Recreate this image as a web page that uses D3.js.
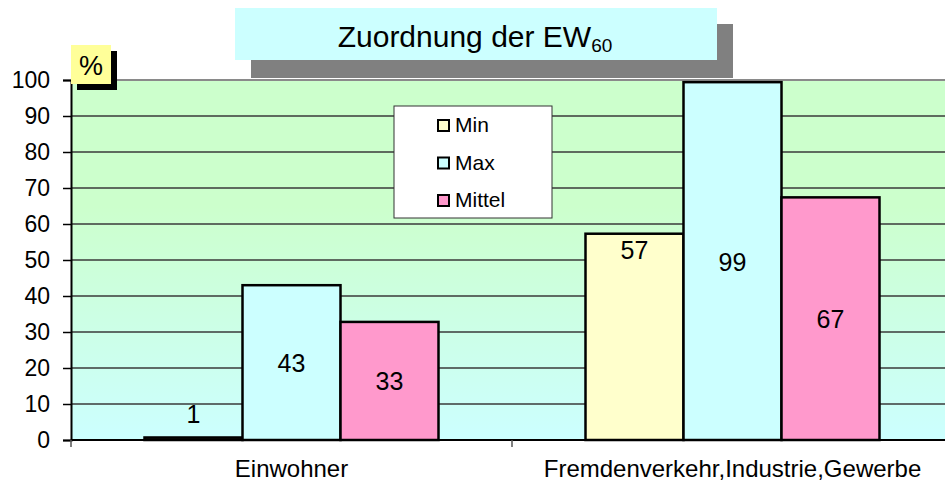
<!DOCTYPE html>
<html>
<head>
<meta charset="utf-8">
<script src="https://cdn.jsdelivr.net/npm/d3@7"></script>
<style>
  body { margin: 0; background: #fff; }
  svg { display: block; font-family: "Liberation Sans", Arial, sans-serif; }
</style>
</head>
<body>
<div id="chart"></div>
<script>
const categories = ["Einwohner", "Fremdenverkehr,Industrie,Gewerbe"];
const seriesNames = ["Min", "Max", "Mittel"];
const minValues = [0.7, 57.3];
const maxValues = [43, 99.4];
const mittelValues = [32.8, 67.4];
const yTicks = [0, 10, 20, 30, 40, 50, 60, 70, 80, 90, 100];
const colors = { Min: "#ffffcc", Max: "#ccffff", Mittel: "#ff99cc" };

const width = 945, height = 484;
const margin = { top: 80, right: -8, bottom: 44, left: 71 };

const rows = categories.map((c, i) => ({
  category: c,
  values: [
    { series: "Min", value: minValues[i] },
    { series: "Max", value: maxValues[i] },
    { series: "Mittel", value: mittelValues[i] },
  ],
}));

const svg = d3.select("#chart").append("svg")
  .attr("width", width).attr("height", height);

const x0 = d3.scaleBand().domain(categories)
  .range([margin.left, width - margin.right]);
const bw = x0.bandwidth();
// the three bars touch each other and leave a sixth of the band free on each side
const x1 = d3.scaleBand().domain(seriesNames).range([bw / 6, bw * 5 / 6]);
const y = d3.scaleLinear().domain([0, 100]).range([height - margin.bottom, margin.top]);

// background gradient
const defs = svg.append("defs");
const grad = defs.append("linearGradient").attr("id", "bg")
  .attr("x1", 0).attr("y1", 0).attr("x2", 0).attr("y2", 1);
grad.append("stop").attr("offset", "0%").attr("stop-color", "#ccffcc");
grad.append("stop").attr("offset", "35%").attr("stop-color", "#ccffcc");
grad.append("stop").attr("offset", "100%").attr("stop-color", "#ccffff");

svg.append("rect")
  .attr("x", margin.left).attr("y", y(100))
  .attr("width", width - margin.left).attr("height", y(0) - y(100))
  .attr("fill", "url(#bg)");

// title box with shadow
svg.append("rect").attr("x", 251).attr("y", 24).attr("width", 482).attr("height", 54)
  .attr("fill", "#808080");
svg.append("rect").attr("x", 235).attr("y", 8).attr("width", 482).attr("height", 52)
  .attr("fill", "#ccffff");
const title = svg.append("text").attr("x", 475).attr("y", 47)
  .attr("text-anchor", "middle").attr("font-size", 30).attr("fill", "#000");
title.append("tspan").text("Zuordnung der EW");
title.append("tspan").attr("font-size", 19).attr("dy", 5).text("60");

// gridlines
svg.append("g")
  .selectAll("line")
  .data(yTicks.filter((d) => d > 0 && d < 100))
  .join("line")
  .attr("x1", margin.left).attr("x2", width)
  .attr("y1", (d) => y(d)).attr("y2", (d) => y(d))
  .attr("stroke", "#3a3a3a").attr("stroke-width", 1.5);

// top border of plot
svg.append("line")
  .attr("x1", margin.left).attr("x2", width)
  .attr("y1", y(100)).attr("y2", y(100))
  .attr("stroke", "#8a8a8a").attr("stroke-width", 2);

// y axis
const yAxis = svg.append("g")
  .attr("transform", `translate(${margin.left},0)`)
  .call(d3.axisLeft(y).tickValues(yTicks).tickSize(8).tickPadding(13));
yAxis.select(".domain").attr("stroke", "#000").attr("stroke-width", 2);
yAxis.selectAll(".tick line").attr("stroke", "#000").attr("stroke-width", 1.5);
yAxis.selectAll("text").attr("font-size", 23).attr("fill", "#000")
  .attr("font-family", "Liberation Sans, Arial, sans-serif");

// bars
const groups = svg.append("g").selectAll("g")
  .data(rows)
  .join("g")
  .attr("transform", (d) => `translate(${x0(d.category)},0)`);

groups.selectAll("rect")
  .data((d) => d.values)
  .join("rect")
  .attr("x", (d) => x1(d.series))
  .attr("y", (d) => y(d.value))
  .attr("width", x1.bandwidth())
  .attr("height", (d) => y(0) - y(d.value))
  .attr("fill", (d) => colors[d.series])
  .attr("stroke", "#000").attr("stroke-width", 2.5);

// value labels
groups.selectAll("text")
  .data((d) => d.values)
  .join("text")
  .attr("x", (d) => x1(d.series) + x1.bandwidth() / 2)
  .attr("y", (d) => {
    if (d.value < 5) return y(d.value) - 14;
    if (d.series === "Min") return y(d.value) + 25;
    return (y(d.value) + y(0)) / 2 + 9.5;
  })
  .attr("text-anchor", "middle")
  .attr("font-size", 25).attr("fill", "#000")
  .text((d) => Math.round(d.value));

// x axis
const xAxis = svg.append("g")
  .attr("transform", `translate(0,${y(0)})`);
xAxis.append("line")
  .attr("x1", margin.left).attr("x2", width)
  .attr("y1", 0).attr("y2", 0)
  .attr("stroke", "#000").attr("stroke-width", 2);
xAxis.selectAll(".tk")
  .data(categories)
  .join("line")
  .attr("class", "tk")
  .attr("x1", (d) => x0(d)).attr("x2", (d) => x0(d))
  .attr("y1", 0).attr("y2", 7)
  .attr("stroke", "#555").attr("stroke-width", 1.5);
xAxis.selectAll(".lbl")
  .data(categories)
  .join("text")
  .attr("class", "lbl")
  .attr("x", (d) => x0(d) + x0.bandwidth() / 2)
  .attr("y", 37)
  .attr("text-anchor", "middle")
  .attr("font-size", 24).attr("fill", "#000")
  .text((d) => d);

// "%" unit label
svg.append("rect").attr("x", 77).attr("y", 51).attr("width", 40).attr("height", 39)
  .attr("fill", "#000");
svg.append("rect").attr("x", 71).attr("y", 45).attr("width", 40).attr("height", 39)
  .attr("fill", "#ffff99");
svg.append("text").attr("x", 91).attr("y", 75).attr("text-anchor", "middle")
  .attr("font-size", 27).attr("fill", "#000").text("%");

// legend
const legend = svg.append("g").attr("transform", "translate(394,106)");
legend.append("rect").attr("width", 158).attr("height", 112)
  .attr("fill", "#fff").attr("stroke", "#333").attr("stroke-width", 1);
const items = legend.selectAll("g")
  .data(seriesNames)
  .join("g")
  .attr("transform", (d, i) => `translate(44,${19 + i * 37.5})`);
items.append("rect")
  .attr("x", 0).attr("y", -5).attr("width", 11).attr("height", 11)
  .attr("fill", (d) => colors[d]).attr("stroke", "#000").attr("stroke-width", 2);
items.append("text")
  .attr("x", 17).attr("y", 7)
  .attr("font-size", 21).attr("fill", "#000")
  .text((d) => d);
</script>
</body>
</html>
